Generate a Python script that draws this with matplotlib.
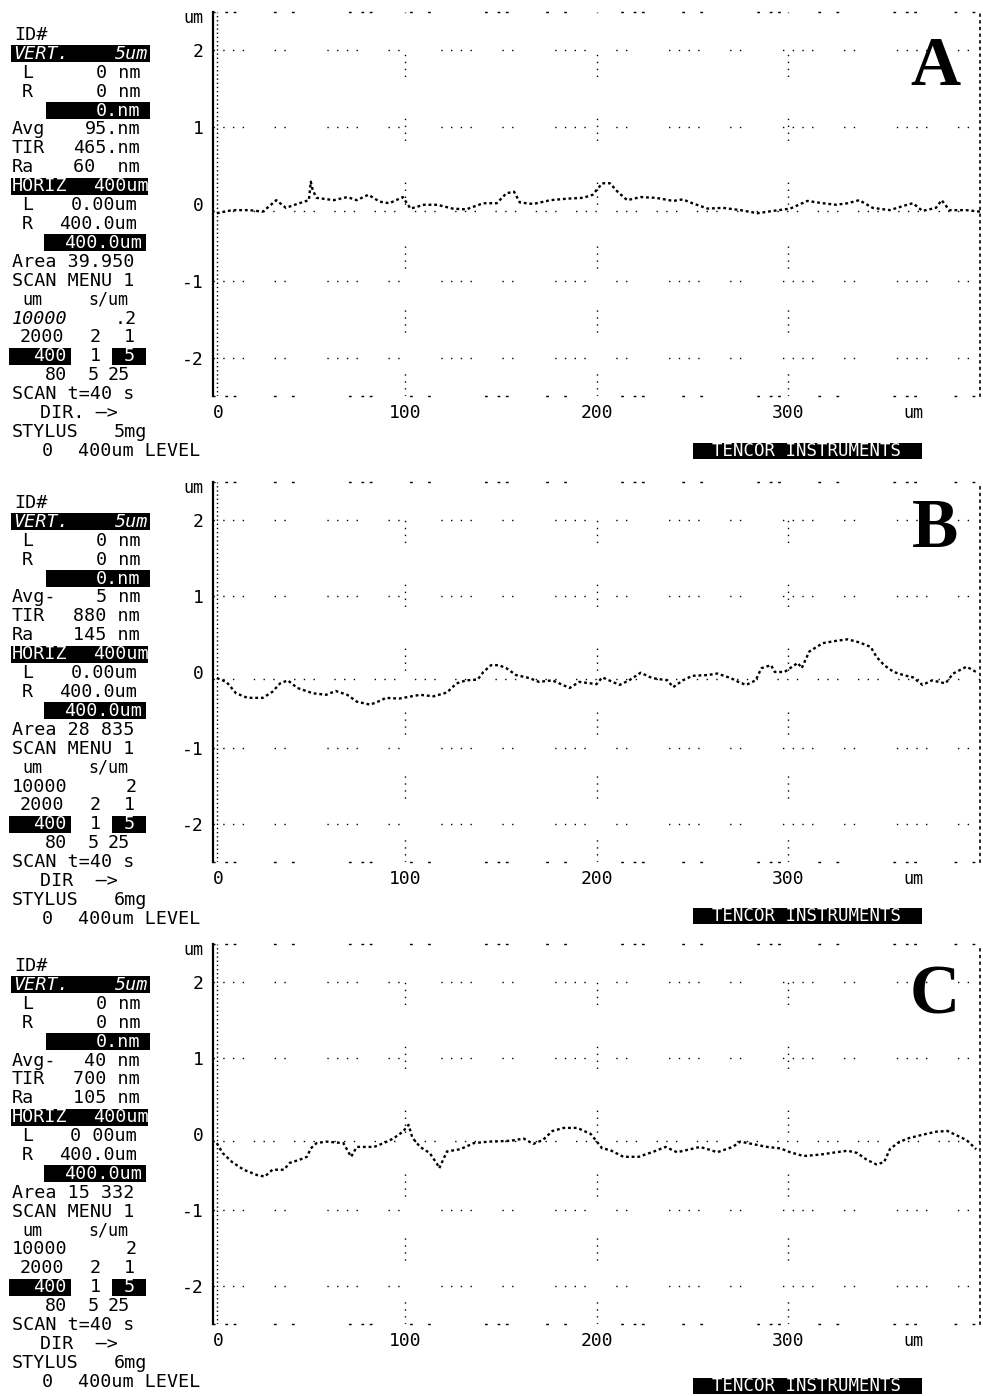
import matplotlib
matplotlib.use("Agg")
import matplotlib.pyplot as plt
from matplotlib.patches import Rectangle

W, H = 983, 1396

# ---------------- data (um, um) ----------------
xA = [2, 10, 19, 26, 33, 38, 45, 50, 51, 52, 54, 63, 70, 75, 81, 87, 92, 99, 103, 110, 117, 125, 132, 141, 148,
      153, 157, 160, 167, 176, 185, 193, 198, 203, 207, 211, 216, 223, 231, 240, 245, 250, 258, 266, 275, 284,
      292, 301, 310, 318, 325, 331, 337, 344, 353, 362, 365, 370, 377, 380, 384, 393, 400]
hA = [-0.12, -0.08, -0.08, -0.10, 0.05, -0.05, 0.01, 0.05, 0.29, 0.18, 0.08, 0.05, 0.09, 0.05, 0.12, 0.03, 0.01,
      0.09, -0.06, -0.01, -0.01, -0.06, -0.07, 0.01, 0.01, 0.14, 0.16, 0.02, 0.00, 0.05, 0.07, 0.08, 0.12, 0.27,
      0.27, 0.16, 0.05, 0.09, 0.08, 0.04, 0.06, 0.01, -0.06, -0.05, -0.08, -0.12, -0.09, -0.06, 0.04, 0.01, -0.01,
      0.01, 0.05, -0.05, -0.08, -0.01, 0.01, -0.09, -0.05, 0.05, -0.08, -0.08, -0.10]

xB = [2, 7, 12, 18, 26, 31, 35, 39, 44, 52, 59, 64, 70, 75, 82, 88, 90, 97, 108, 115, 122, 127, 132, 138, 141,
      145, 149, 153, 158, 165, 170, 177, 186, 191, 200, 203, 212, 217, 223, 229, 237, 240, 245, 250, 258, 263,
      270, 274, 278, 283, 286, 291, 293, 298, 305, 307, 311, 318, 325, 331, 337, 343, 346, 350, 355, 360, 365,
      370, 375, 382, 386, 393, 398]
hB = [-0.08, -0.13, -0.28, -0.34, -0.34, -0.26, -0.15, -0.11, -0.21, -0.28, -0.30, -0.25, -0.30, -0.39, -0.43,
      -0.37, -0.34, -0.35, -0.30, -0.32, -0.27, -0.15, -0.11, -0.10, 0.00, 0.09, 0.09, 0.05, -0.04, -0.08, -0.13,
      -0.11, -0.21, -0.13, -0.16, -0.07, -0.17, -0.11, -0.01, -0.08, -0.11, -0.20, -0.11, -0.05, -0.04, -0.02,
      -0.08, -0.13, -0.17, -0.11, 0.05, 0.09, 0.00, 0.00, 0.12, 0.05, 0.27, 0.38, 0.41, 0.43, 0.39, 0.33, 0.20,
      0.09, 0.00, -0.04, -0.07, -0.17, -0.11, -0.15, -0.02, 0.07, 0.00]

xC = [2, 5, 10, 16, 23, 27, 31, 37, 40, 45, 49, 51, 54, 59, 68, 72, 75, 84, 89, 94, 99, 102, 104, 108, 113, 117,
      118, 122, 129, 136, 144, 155, 162, 167, 172, 177, 183, 190, 197, 203, 207, 214, 222, 230, 236, 242, 249,
      254, 258, 263, 271, 275, 281, 289, 296, 301, 308, 317, 325, 331, 336, 341, 346, 350, 353, 357, 362, 370,
      377, 383, 388, 393, 398]
hC = [-0.12, -0.25, -0.37, -0.47, -0.54, -0.56, -0.47, -0.47, -0.38, -0.34, -0.30, -0.19, -0.12, -0.10, -0.12,
      -0.30, -0.17, -0.17, -0.12, -0.06, 0.03, 0.12, -0.05, -0.17, -0.25, -0.40, -0.45, -0.23, -0.20, -0.12,
      -0.10, -0.09, -0.06, -0.13, -0.08, 0.04, 0.08, 0.08, 0.00, -0.19, -0.21, -0.30, -0.30, -0.23, -0.17, -0.24,
      -0.20, -0.17, -0.20, -0.24, -0.17, -0.10, -0.13, -0.17, -0.19, -0.24, -0.29, -0.27, -0.24, -0.22, -0.25,
      -0.34, -0.40, -0.37, -0.20, -0.12, -0.06, -0.01, 0.03, 0.04, -0.02, -0.08, -0.20]

y_ticks = [2, 1, 0, -1, -2]
y_tick_labels = ["2", "1", "0", "-1", "-2"]
x_ticks = [0, 100, 200, 300]
x_tick_labels = ["0", "100", "200", "300"]
panel_letters = ["A", "B", "C"]

# side-panel readouts per panel
avg_label = ["Avg", "Avg-", "Avg-"]
avg_val = ["95.nm", "5 nm", "40 nm"]
tir_val = ["465.nm", "880 nm", "700 nm"]
ra_val = ["60  nm", "145 nm", "105 nm"]
left_val = ["0.00um", "0.00um", "0 00um"]
area_val = ["Area 39.950", "Area 28 835", "Area 15 332"]
speed_top = [".2", "2", "2"]
dir_text = ["DIR. \u2014>", "DIR  \u2014>", "DIR  \u2014>"]
stylus_val = ["5mg", "6mg", "6mg"]

# ---------------- layout ----------------
MONO = "DejaVu Sans Mono"
FS = 13.2
fig = plt.figure(figsize=(W / 100, H / 100), dpi=100)
fig.patch.set_facecolor("white")


def fx(x):
    return x / W


def fy(y):
    return 1 - y / H


def ftext(x, y, s, ha="left", color="black", size=FS, **kw):
    fig.text(fx(x), fy(y), s, ha=ha, va="center", color=color, fontsize=size,
             family=MONO, **kw)


def fbox(x0, x1, y, h=17):
    fig.add_artist(Rectangle((fx(x0), fy(y + h / 2)), (x1 - x0) / W, h / H,
                             transform=fig.transFigure, facecolor="black",
                             edgecolor="none", zorder=1))


axes_px = [(12, 396), (482, 862), (944, 1324)]
text_y0 = [35, 503, 966]
letter_y = [68, 530, 997]
tencor_y = [451, 916, 1386]
traces = [(xA, hA), (xB, hB), (xC, hC)]

for i in range(3):
    top, bot = axes_px[i]
    ax = fig.add_axes([fx(213), fy(bot), (980 - 213) / W, (bot - top) / H])
    ax.set_xlim(0, 400)
    ax.set_ylim(-2.5, 2.5)
    ax.set_facecolor("white")
    xs, hs = traces[i]
    ax.plot(xs, hs, color="black", lw=1.7, linestyle=(0, (1.2, 1.2)), zorder=3)
    # sparse, fragmentary dotted graticule
    hdots = (0, (1, 6, 1, 6, 1, 6, 1, 22, 1, 6, 1, 30))
    for yv in [2, 1, -1, -2]:
        ax.axhline(yv, color="black", lw=1.0, linestyle=hdots, zorder=1)
    ax.axhline(-0.09, color="black", lw=1.0, linestyle=(0, (1, 6, 1, 6, 1, 14)), zorder=1)
    for xv in [100, 200, 300]:
        ax.axvline(xv, color="black", lw=1.0, linestyle=(0, (1, 4, 1, 4, 1, 4, 1, 30)), zorder=1)
    ax.axvline(2, color="black", lw=1.0, linestyle=(0, (1, 2)), zorder=1)
    for s in ["top", "bottom"]:
        ax.spines[s].set_linestyle((0, (1, 8, 1, 5, 1, 28, 1, 12, 1, 40)))
        ax.spines[s].set_linewidth(1.0)
    ax.spines["right"].set_linestyle((0, (1, 3)))
    ax.spines["right"].set_linewidth(1.2)
    ax.spines["left"].set_linewidth(1.6)
    ax.set_yticks(y_ticks)
    ax.set_yticklabels(y_tick_labels, family=MONO, fontsize=13)
    ax.set_xticks(x_ticks)
    ax.set_xticklabels(x_tick_labels, family=MONO, fontsize=13)
    ax.tick_params(axis="y", length=0, pad=7)
    ax.tick_params(axis="x", length=0, pad=6)
    for lab in ax.get_xticklabels()[:1]:
        lab.set_horizontalalignment("left")
    ftext(913, bot + 17, "um", ha="center", size=12)
    ftext(193, top + 6, "um", ha="center", size=12)

    # panel letter
    fig.text(fx(935), fy(letter_y[i]), panel_letters[i], ha="center", va="center",
             fontsize=50, fontweight="bold", family="Liberation Serif")

    # TENCOR box
    fbox(693, 922, tencor_y[i], h=16)
    ftext(807, tencor_y[i], "TENCOR INSTRUMENTS", ha="center", color="white", size=12.5)

    # left readout
    y0 = text_y0[i]
    dy = 18.9

    def L(n):
        return y0 + n * dy

    ftext(14, L(0), "ID#")
    fbox(11, 150, L(1))
    ftext(13, L(1), "VERT.", color="white", style="italic")
    ftext(148, L(1), "5um", ha="right", color="white", style="italic")
    ftext(22, L(2), "L")
    ftext(140, L(2), "0 nm", ha="right")
    ftext(22, L(3), "R")
    ftext(140, L(3), "0 nm", ha="right")
    fbox(46, 150, L(4))
    ftext(140, L(4), "0.nm", ha="right", color="white")
    ftext(12, L(5), avg_label[i])
    ftext(140, L(5), avg_val[i], ha="right")
    ftext(12, L(6), "TIR")
    ftext(140, L(6), tir_val[i], ha="right")
    ftext(12, L(7), "Ra")
    ftext(140, L(7), ra_val[i], ha="right")
    fbox(11, 148, L(8))
    ftext(12, L(8), "HORIZ", color="white")
    ftext(149, L(8), "400um", ha="right", color="white")
    ftext(22, L(9), "L")
    ftext(137, L(9), left_val[i], ha="right")
    ftext(22, L(10), "R")
    ftext(137, L(10), "400.0um", ha="right")
    fbox(44, 146, L(11))
    ftext(142, L(11), "400.0um", ha="right", color="white")
    ftext(12, L(12), area_val[i])
    ftext(12, L(13), "SCAN MENU 1")
    ftext(22, L(14), "um", size=12)
    ftext(88, L(14), "s/um", size=12)
    ftext(12, L(15), "10000", style="italic" if i == 0 else "normal")
    ftext(137, L(15), speed_top[i], ha="right")
    ftext(20, L(16), "2000")
    ftext(90, L(16), "2")
    ftext(135, L(16), "1", ha="right")
    fbox(9, 71, L(17))
    ftext(66, L(17), "400", ha="right", color="white")
    ftext(90, L(17), "1")
    fbox(112, 146, L(17))
    ftext(129, L(17), "5", ha="center", color="white")
    ftext(45, L(18), "80")
    ftext(88, L(18), "5")
    ftext(108, L(18), "25")
    ftext(12, L(19), "SCAN t=40 s")
    ftext(40, L(20), dir_text[i])
    ftext(12, L(21), "STYLUS")
    ftext(147, L(21), stylus_val[i], ha="right")
    ftext(42, L(22), "0")
    ftext(78, L(22), "400um LEVEL")

fig.savefig("out.png", dpi=100, facecolor="white")
